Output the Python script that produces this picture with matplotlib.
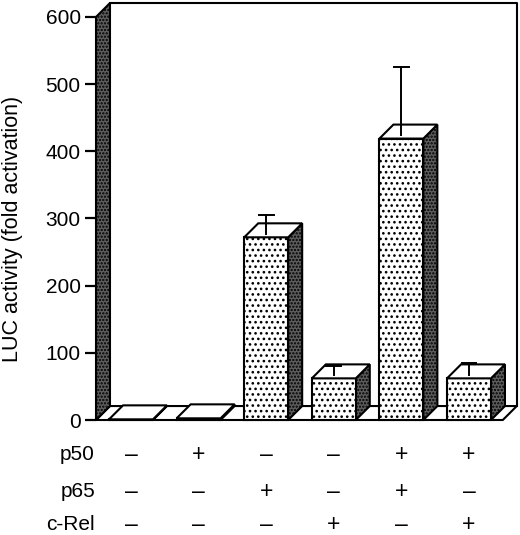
import matplotlib
matplotlib.use("Agg")
import matplotlib.pyplot as plt
from matplotlib.patches import Polygon

plt.rcParams["font.family"] = ["Liberation Sans", "DejaVu Sans"]
plt.rcParams["hatch.linewidth"] = 1.1

# ── data ───────────────────────────────────────────────────────────────────────
values    = [1, 2.5, 272, 62, 419, 62]
err_tops  = [None, None, 305, 80, 525, 85]
p50_row   = ["–", "+", "–", "–", "+", "+"]
p65_row   = ["–", "–", "+", "–", "+", "–"]
crel_row  = ["–", "–", "–", "+", "–", "+"]
row_names = ["p50", "p65", "c-Rel"]
y_ticks   = [0, 100, 200, 300, 400, 500, 600]

# ── 3-D look ───────────────────────────────────────────────────────────────────
DX, DY = 0.207, 20.8      # depth offset in data units
BAR_W = 0.65
X_LEFT, X_RIGHT = -0.518, 5.50
Y_TOP = 600
LW = 1.5
DARK = dict(facecolor="#5e5e5e", edgecolor="black", hatch=".....", linewidth=LW)

fig = plt.figure(figsize=(5.2, 5.35), dpi=100)
ax = fig.add_axes([96 / 520, 115 / 535, 421 / 520, 418 / 535])
ax.set_xlim(X_LEFT, X_RIGHT + DX + 0.003)
ax.set_ylim(0, Y_TOP + DY + 1.5)
for s in ax.spines.values():
    s.set_visible(False)

def poly(pts, **kw):
    p = Polygon(pts, closed=True, joinstyle="miter", clip_on=False, **kw)
    ax.add_patch(p)
    return p

# back wall (only top and right edges show)
ax.plot([X_LEFT + DX, X_RIGHT + DX, X_RIGHT + DX],
        [Y_TOP + DY, Y_TOP + DY, DY], color="black", lw=LW, clip_on=False)

# floor
poly([(X_LEFT, 0), (X_RIGHT, 0), (X_RIGHT + DX, DY), (X_LEFT + DX, DY)],
     facecolor="white", edgecolor="black", linewidth=LW)

# left wall
poly([(X_LEFT, 0), (X_LEFT, Y_TOP), (X_LEFT + DX, Y_TOP + DY), (X_LEFT + DX, DY)], **DARK)

# bars
for i, v in enumerate(values):
    x0, x1 = i - BAR_W / 2, i + BAR_W / 2
    poly([(x1, 0), (x1 + DX, DY), (x1 + DX, v + DY), (x1, v)], **DARK)
    poly([(x0, 0), (x1, 0), (x1, v), (x0, v)],
         facecolor="white", edgecolor="black", hatch="...", linewidth=LW)
    poly([(x0, v), (x1, v), (x1 + DX, v + DY), (x0 + DX, v + DY)],
         facecolor="white", edgecolor="black", linewidth=LW)
    if err_tops[i] is not None:
        ax.plot([i, i], [v + DY * 0.25, err_tops[i]], color="black", lw=1.4, clip_on=False)
        ax.plot([i - 0.11, i + 0.11], [err_tops[i]] * 2, color="black", lw=1.4, clip_on=False)

# y axis
ax.set_xticks([])
ax.set_yticks(y_ticks)
ax.set_yticklabels([str(t) for t in y_ticks], fontsize=15)
ax.tick_params(axis="y", length=8, width=1.6, pad=3)

fig.text(13 / 520, 1 - 229 / 535, "LUC activity (fold activation)",
         rotation=90, ha="center", va="center", fontsize=15.5)

# condition table below the plot
row_y = [-52, -106, -155]
for name, marks, yy in zip(row_names, [p50_row, p65_row, crel_row], row_y):
    ax.text(-0.533, yy, name, ha="right", va="center", fontsize=15, clip_on=False)
    for i, m in enumerate(marks):
        ax.text(i, yy, m, ha="center", va="center", fontsize=16.5, clip_on=False)

fig.savefig("out.png", dpi=100)
